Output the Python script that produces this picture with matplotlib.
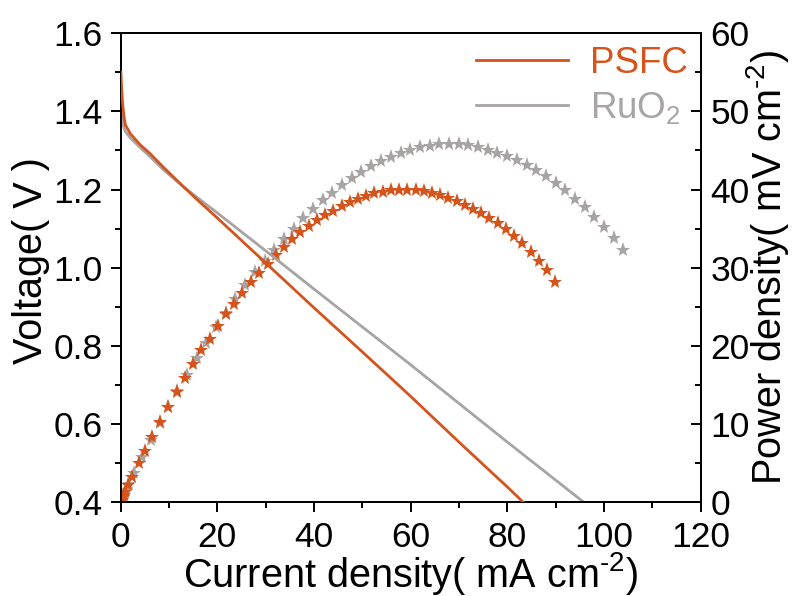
import matplotlib
matplotlib.use("Agg")
import matplotlib.pyplot as plt
from matplotlib.ticker import MultipleLocator

plt.rcParams['font.family'] = ['Liberation Sans', 'DejaVu Sans']
plt.rcParams['mathtext.fontset'] = 'custom'
plt.rcParams['mathtext.rm'] = 'Liberation Sans'
plt.rcParams['mathtext.default'] = 'regular'

ORANGE = '#D4541C'
GRAY = '#A8A4A4'

# polarisation curves (voltage vs current density)
psfc_i = [0.05, 0.2, 0.4, 0.7, 1.0, 2, 4, 6, 9, 13, 16, 20, 30, 40, 50, 58, 60, 70, 80, 83.2, 90]
psfc_v = [1.50, 1.46, 1.42, 1.385, 1.365, 1.343, 1.315, 1.293, 1.255, 1.207, 1.172, 1.127,
          1.012, 0.897, 0.784, 0.693, 0.670, 0.553, 0.438, 0.400, 0.318]
ruo2_i = [0.05, 0.2, 0.4, 0.7, 1.0, 2, 4, 6, 9, 13, 16, 20, 30, 40, 50, 60, 70, 80, 95.7, 104]
ruo2_v = [1.43, 1.40, 1.375, 1.357, 1.348, 1.332, 1.308, 1.285, 1.249, 1.207, 1.178, 1.140,
          1.043, 0.945, 0.848, 0.751, 0.652, 0.553, 0.400, 0.310]

# power density points (stars)
psfc_pi = [0.1, 0.2, 0.3, 0.45, 0.6, 0.89, 1.57, 2.4, 3.79, 5.03, 6.41, 8.14, 9.85, 11.59,
           13.3, 15.0, 16.7, 18.4, 20.1, 21.8, 23.5, 25.2, 27.0, 28.7, 30.4, 32.1, 33.8, 35.5,
           37.2, 38.9, 40.6, 42.3, 44.0, 45.7, 47.4, 49.1, 50.8, 52.5, 54.2, 55.9, 57.6, 59.3,
           61.0, 62.7, 64.4, 66.1, 67.8, 69.5, 71.2, 72.9, 74.6, 76.3, 78.0, 79.7, 81.4, 83.1,
           84.8, 86.5, 88.3, 89.9]
psfc_p = [0.15, 0.29, 0.43, 0.63, 0.83, 1.22, 2.1, 3.2, 5.0, 6.5, 8.3, 10.2, 12.2, 14.1,
          15.9, 17.7, 19.4, 20.9, 22.5, 24.0, 25.4, 26.8, 28.2, 29.3, 30.5, 31.6, 32.6, 33.6,
          34.5, 35.3, 36.1, 36.8, 37.3, 37.9, 38.4, 38.8, 39.2, 39.5, 39.7, 39.9, 40.0, 40.0,
          39.9, 39.8, 39.6, 39.3, 38.9, 38.5, 38.0, 37.5, 37.0, 36.4, 35.7, 34.9, 34.0, 33.1,
          32.0, 30.9, 29.7, 28.2]
ruo2_pi = [0.1, 0.2, 0.35, 0.48, 0.75, 1.1, 1.73, 2.77, 4.4, 6.2, 8.1, 9.8,
           11.7, 13.7, 15.7, 17.7, 19.7, 21.7, 23.7, 25.8, 27.8, 29.8, 31.8, 33.8, 35.8, 37.8,
           39.8, 41.8, 43.8, 45.8, 47.8, 49.8, 51.8, 53.8, 55.9, 57.9, 59.9, 61.9, 63.9, 65.9,
           67.9, 69.9, 71.9, 73.9, 75.9, 77.9, 79.9, 81.9, 84.0, 86.0, 88.0, 90.0, 92.0, 94.0,
           96.0, 98.0, 100.0, 102.0, 104.0]
ruo2_p = [0.14, 0.28, 0.49, 0.66, 1.02, 1.48, 2.3, 3.7, 5.75, 7.95, 10.1, 12.1,
          14.2, 16.3, 18.4, 20.4, 22.4, 24.2, 26.0, 27.8, 29.4, 30.9, 32.3, 33.7, 35.0, 36.3,
          37.5, 38.6, 39.6, 40.6, 41.5, 42.3, 43.0, 43.6, 44.2, 44.7, 45.1, 45.4, 45.6, 45.8,
          45.8, 45.8, 45.7, 45.4, 45.1, 44.7, 44.3, 43.8, 43.2, 42.5, 41.7, 40.8, 39.9, 38.8,
          37.7, 36.5, 35.2, 33.8, 32.2]

fig = plt.figure(figsize=(7.94, 5.96), dpi=100)
ax = fig.add_axes([0.152, 0.158, 0.7305, 0.786])
ax2 = ax.twinx()

l1, = ax.plot(psfc_i, psfc_v, color=ORANGE, lw=2.0, label='PSFC', zorder=3)
l2, = ax.plot(ruo2_i, ruo2_v, color=GRAY, lw=2.0, label='RuO$_2$', zorder=2)
ax2.plot(ruo2_pi, ruo2_p, ls='none', marker='*', ms=11, mew=0, color=GRAY)
ax2.plot(psfc_pi, psfc_p, ls='none', marker='*', ms=11, mew=0, color=ORANGE)

ax.set_xlim(0, 120)
ax.set_ylim(0.4, 1.6)
ax2.set_ylim(0, 60)

ax.xaxis.set_major_locator(MultipleLocator(20))
ax.xaxis.set_minor_locator(MultipleLocator(10))
ax.yaxis.set_major_locator(MultipleLocator(0.2))
ax.yaxis.set_minor_locator(MultipleLocator(0.1))
ax2.yaxis.set_major_locator(MultipleLocator(10))
ax2.yaxis.set_minor_locator(MultipleLocator(5))
ax.yaxis.set_major_formatter(matplotlib.ticker.FormatStrFormatter('%.1f'))

for a in (ax, ax2):
    for s in a.spines.values():
        s.set_linewidth(1.4)

ax.tick_params(axis='x', which='both', direction='out', top=False, labelsize=25.5, pad=7)
ax.tick_params(axis='y', which='both', direction='out', right=False, labelsize=25.5, pad=6)
ax.tick_params(which='major', length=7, width=1.4)
ax.tick_params(which='minor', length=4, width=1.4)
ax2.tick_params(axis='y', which='both', direction='in', labelsize=25.5, pad=7)
ax2.tick_params(which='major', length=7, width=1.4)
ax2.tick_params(which='minor', length=4, width=1.4)

ax.set_xlabel('Current density( mA cm$^{\u20102}$)', fontsize=28.5, labelpad=-3)
ax.set_ylabel('Voltage( V )', fontsize=28.5)
ax.yaxis.set_label_coords(-0.122, 0.515)
ax2.set_ylabel('Power density( mV cm$^{\u20102}$)', fontsize=28.5, labelpad=-4)

ax.legend(handles=[l1, l2], loc='upper right', bbox_to_anchor=(1.016, 1.02), frameon=False,
          fontsize=26.5, handlelength=2.5, handletextpad=0.6, labelspacing=0.25,
          labelcolor='linecolor', borderaxespad=0.2)
ax.set_zorder(ax2.get_zorder() + 1)
ax.patch.set_visible(False)

fig.savefig('out.png', dpi=100)
